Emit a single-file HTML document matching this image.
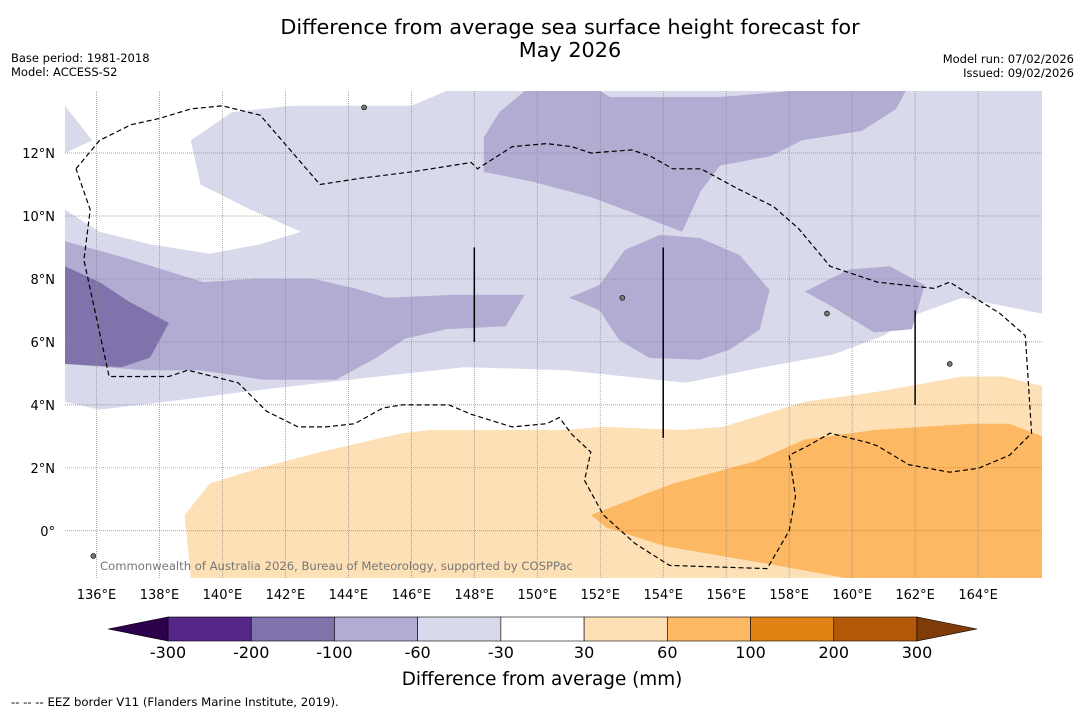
<!DOCTYPE html>
<html><head><meta charset="utf-8"><style>
body{margin:0;background:#fff;width:1085px;height:713px;overflow:hidden;font-family:"DejaVu Sans","Liberation Sans",sans-serif}
svg{display:block;font-family:"DejaVu Sans","Liberation Sans",sans-serif}
</style></head><body>
<svg id="c" width="1085" height="713" xmlns="http://www.w3.org/2000/svg">
<text x="570" y="34" font-size="20.8" text-anchor="middle">Difference from average sea surface height forecast for</text>
<text x="570" y="57" font-size="20.8" text-anchor="middle">May 2026</text>
<text x="11" y="62" font-size="11.5">Base period: 1981-2018</text>
<text x="11" y="76" font-size="11.5">Model: ACCESS-S2</text>
<text x="1074" y="63" font-size="11.5" text-anchor="end">Model run: 07/02/2026</text>
<text x="1074" y="77" font-size="11.5" text-anchor="end">Issued: 09/02/2026</text>
<g id="map"></g>
<g id="cbar"></g>
<text x="542" y="685" font-size="18.4" text-anchor="middle">Difference from average (mm)</text>
<text x="11" y="706" font-size="11.7">--  --  -- EEZ border V11 (Flanders Marine Institute, 2019).</text>
</svg>
<script>
const NS="http://www.w3.org/2000/svg";
const lonMin=135,lonMax=166.03,latMin=-1.5,latMax=13.97;
const X0=65,X1=1042,Y0=91,Y1=578;
const lonTicks=[136,138,140,142,144,146,148,150,152,154,156,158,160,162,164];
const latTicks=[12,10,8,6,4,2,0];
const levels=[-300,-200,-100,-60,-30,30,60,100,200,300];
const levelColors=["#542788","#8073ac","#b2abd2","#d8daeb","#ffffff","#fee0b6","#fdb863","#e08214","#b35806"];
const lowColor="#2d004b",highColor="#7f3b08";
function px(lon){return X0+(lon-lonMin)/(lonMax-lonMin)*(X1-X0);}
function py(lat){return Y1-(lat-latMin)/(latMax-latMin)*(Y1-Y0);}
const regLav=[[135,4.1],[136.1,3.85],[138.2,4.1],[141.4,4.5],[144.5,4.85],[147.7,5.2],[150.9,5.1],[154.7,4.7],[157.2,5.2],[159.4,5.6],[161,6.2],[162.1,6.9],[163.5,7.4],[166.03,6.9],[166.03,13.97],[135,13.97]];
const regWhiteTop=[[135,13.97],[135,13.5],[135.86,12.4],[135,12.0],[135,10.2],[136.1,9.5],[137.7,9.1],[139.6,8.8],[141.2,9.1],[142.5,9.5],[140.9,10.2],[139.3,11.0],[139,12.4],[140.3,13.3],[142.2,13.5],[146,13.5],[146.6,13.75],[147.1,13.97]];
const regMed1=[[135,9.2],[136.8,8.7],[139.4,7.9],[141,8.0],[142.9,8.0],[144.2,7.7],[145.2,7.4],[147.4,7.5],[149.6,7.5],[149,6.5],[147.1,6.4],[145.8,6.1],[144.9,5.5],[143.6,4.8],[141.3,4.8],[139.3,5.1],[137.5,5.1],[135,5.3]];
const regMed2=[[148.3,12.5],[148.8,13.3],[149.6,13.97],[152,13.97],[152.3,13.78],[155.8,13.78],[158.1,13.97],[161.7,13.97],[161.4,13.4],[160.3,12.7],[158.4,12.4],[157.4,11.9],[155.8,11.6],[155.2,10.8],[154.6,9.5],[153.3,10.0],[151.7,10.6],[149.8,11.1],[148.3,11.4]];
const regMed3=[[151.0,7.4],[151.98,7.81],[152.78,8.92],[153.89,9.4],[155.16,9.3],[156.43,8.76],[157.38,7.65],[157.06,6.38],[156.1,5.75],[155.16,5.43],[153.57,5.49],[152.6,6.06],[151.98,7.0],[151.2,7.33]];
const regMed4=[[158.5,7.6],[159.9,8.3],[161.2,8.4],[162.3,7.8],[161.9,6.4],[160.7,6.3],[159.4,7.1]];
const regDark=[[135,8.4],[136.1,7.9],[137.0,7.3],[138.3,6.6],[137.7,5.5],[136.8,5.2],[135,5.3]];
const regOr1=[[138.8,0.5],[139.6,1.5],[141.2,2.0],[143.1,2.5],[145.7,3.1],[146.6,3.2],[150.8,3.2],[152.1,3.3],[154.6,3.2],[155.9,3.3],[158.5,4.1],[160.7,4.4],[163.5,4.9],[164.8,4.9],[166.03,4.6],[166.03,-1.5],[139,-1.5]];
const regOr2=[[151.7,0.5],[154.3,1.5],[156.9,2.2],[158.5,2.9],[160.7,3.2],[163.8,3.4],[165.0,3.4],[166.03,3.0],[166.03,-1.5],[159.8,-1.5],[157.6,-1.1],[154.1,-0.5],[152.2,0.1]];
const eez=[[135.35,11.5],[136.1,12.4],[137.1,12.9],[138,13.1],[139,13.4],[140,13.5],[141.2,13.2],[143.1,11.0],[144.4,11.2],[146,11.4],[147.9,11.7],[148.1,11.5],[149.2,12.2],[150.3,12.3],[151.1,12.2],[151.7,12.0],[153,12.1],[153.6,11.9],[154.3,11.5],[155.2,11.5],[156.3,10.9],[157.5,10.3],[158.3,9.6],[159.3,8.4],[160.8,7.9],[162.6,7.7],[163.1,7.9],[164.7,6.9],[165.5,6.2],[165.7,3.1],[165,2.4],[164,1.98],[163.1,1.86],[161.8,2.1],[160.8,2.7],[160.5,2.8],[159.3,3.1],[158.6,2.7],[158.0,2.4],[158.2,1.1],[158.0,0.0],[157.3,-1.2],[154.2,-1.1],[153.1,-0.4],[152.1,0.5],[151.5,1.6],[151.7,2.5],[151.1,3.06],[150.7,3.6],[150.3,3.4],[149.2,3.3],[147.9,3.7],[147.2,4.0],[145.7,4.0],[145.1,3.9],[144.2,3.4],[143.3,3.3],[142.4,3.3],[141.4,3.8],[140.5,4.7],[138.9,5.1],[138.3,4.9],[137.2,4.9],[136.4,4.9],[135.6,8.6],[135.8,10.2],[135.35,11.5]];
const vlines=[[148,9.0,6.0],[154,9.0,2.95],[162,7.0,4.0]];
const islands=[[144.5,13.45],[135.9,-0.8],[159.2,6.9],[152.7,7.4],[163.1,5.3]];

const map=document.getElementById('map');
function poly(pts,fill,name){const p=document.createElementNS(NS,'polygon');
p.setAttribute('points',pts.map(q=>px(q[0]).toFixed(1)+','+py(q[1]).toFixed(1)).join(' '));
p.setAttribute('fill',fill);


map.appendChild(p);}
poly(regLav,"#d8daeb","contour-minus60");
poly(regWhiteTop,"#ffffff","contour-neutral-north");
poly(regMed1,"#b2abd2","contour-minus100-west");
poly(regMed2,"#b2abd2","contour-minus100-north");
poly(regMed3,"#b2abd2","contour-minus100-central");
poly(regMed4,"#b2abd2","contour-minus100-east");
poly(regDark,"#8073ac","contour-minus200");
poly(regOr1,"#fee0b6","contour-plus30");
poly(regOr2,"#fdb863","contour-plus60");
lonTicks.forEach(l=>{const ln=document.createElementNS(NS,'line');
ln.setAttribute('x1',px(l));ln.setAttribute('x2',px(l));ln.setAttribute('y1',Y0);ln.setAttribute('y2',Y1);
ln.setAttribute('stroke','#888');ln.setAttribute('stroke-width','0.7');ln.setAttribute('stroke-dasharray','1,1');


map.appendChild(ln);
const t=document.createElementNS(NS,'text');t.setAttribute('x',px(l));t.setAttribute('y',599);t.setAttribute('font-size','13');t.setAttribute('text-anchor','middle');t.textContent=l+'°E';


map.appendChild(t);});
latTicks.forEach(l=>{const ln=document.createElementNS(NS,'line');
ln.setAttribute('x1',X0);ln.setAttribute('x2',X1);ln.setAttribute('y1',py(l));ln.setAttribute('y2',py(l));
ln.setAttribute('stroke','#888');ln.setAttribute('stroke-width','0.7');ln.setAttribute('stroke-dasharray','1,1');


map.appendChild(ln);
const t=document.createElementNS(NS,'text');t.setAttribute('x',55);t.setAttribute('y',py(l)+5);t.setAttribute('font-size','13');t.setAttribute('text-anchor','end');t.textContent=l===0?'0°':l+'°N';


map.appendChild(t);});
const ep=document.createElementNS(NS,'polyline');
ep.setAttribute('points',eez.map(q=>px(q[0]).toFixed(1)+','+py(q[1]).toFixed(1)).join(' '));
ep.setAttribute('fill','none');ep.setAttribute('stroke','#000');ep.setAttribute('stroke-width','1.2');ep.setAttribute('stroke-dasharray','5,3');


map.appendChild(ep);
vlines.forEach(v=>{const ln=document.createElementNS(NS,'line');
ln.setAttribute('x1',px(v[0]));ln.setAttribute('x2',px(v[0]));ln.setAttribute('y1',py(v[1]));ln.setAttribute('y2',py(v[2]));
ln.setAttribute('stroke','#000');ln.setAttribute('stroke-width','1.5');


map.appendChild(ln);});
islands.forEach(v=>{const c=document.createElementNS(NS,'circle');
c.setAttribute('cx',px(v[0]));c.setAttribute('cy',py(v[1]));c.setAttribute('r','2.5');c.setAttribute('fill','#777');c.setAttribute('stroke','#000');c.setAttribute('stroke-width','0.6');


map.appendChild(c);});
const at=document.createElementNS(NS,'text');at.setAttribute('x',100);at.setAttribute('y',570);at.setAttribute('font-size','11.6');at.setAttribute('fill','#777');
at.textContent='Commonwealth of Australia 2026, Bureau of Meteorology, supported by COSPPac';


map.appendChild(at);
const cb=document.getElementById('cbar');
const cx0=168,cx1=917,cy=617,ch=24,bw=(cx1-cx0)/levelColors.length;
levelColors.forEach((col,i)=>{const r=document.createElementNS(NS,'rect');
r.setAttribute('x',cx0+i*bw);r.setAttribute('y',cy);r.setAttribute('width',bw);r.setAttribute('height',ch);r.setAttribute('fill',col);r.setAttribute('stroke','#000');r.setAttribute('stroke-width','0.6');


cb.appendChild(r);});
const tl=document.createElementNS(NS,'polygon');tl.setAttribute('points',`108,${cy+ch/2} ${cx0},${cy} ${cx0},${cy+ch}`);tl.setAttribute('fill',lowColor);tl.setAttribute('stroke','#000');tl.setAttribute('stroke-width','0.6');


cb.appendChild(tl);
const tr=document.createElementNS(NS,'polygon');tr.setAttribute('points',`977,${cy+ch/2} ${cx1},${cy} ${cx1},${cy+ch}`);tr.setAttribute('fill',highColor);tr.setAttribute('stroke','#000');tr.setAttribute('stroke-width','0.6');


cb.appendChild(tr);
levels.forEach((v,i)=>{const t=document.createElementNS(NS,'text');t.setAttribute('x',cx0+i*bw);t.setAttribute('y',658);t.setAttribute('font-size','16');t.setAttribute('text-anchor','middle');t.textContent=v;


cb.appendChild(t);});
</script>
</body></html>
